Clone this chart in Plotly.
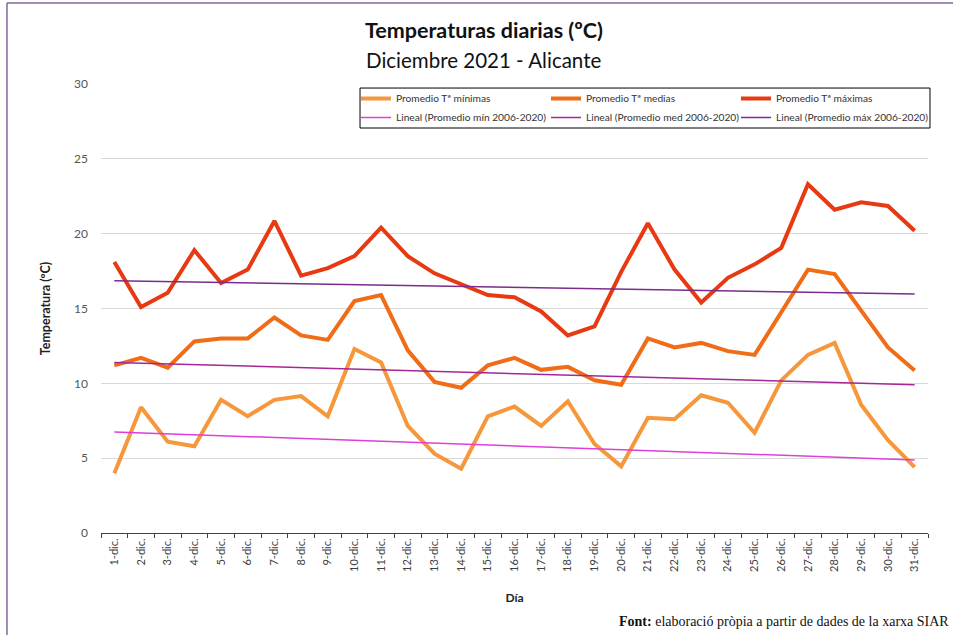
import plotly.graph_objects as go

dias = [f"{d}-dic." for d in range(1, 32)]

t_min = [4.0, 8.4, 6.1, 5.8, 8.9, 7.8, 8.9, 9.15, 7.8, 12.3, 11.4, 7.15, 5.3, 4.3, 7.8, 8.45,
         7.15, 8.8, 5.95, 4.45, 7.7, 7.6, 9.2, 8.7, 6.7, 10.2, 11.9, 12.7, 8.55, 6.2, 4.4]
t_med = [11.2, 11.7, 11.05, 12.8, 13.0, 13.0, 14.4, 13.2, 12.9, 15.5, 15.9, 12.2, 10.1, 9.7, 11.2, 11.7,
         10.9, 11.1, 10.2, 9.9, 13.0, 12.4, 12.7, 12.15, 11.9, 14.8, 17.6, 17.3, 14.8, 12.4, 10.85]
t_max = [18.1, 15.1, 16.05, 18.9, 16.7, 17.6, 20.85, 17.2, 17.7, 18.5, 20.4, 18.5, 17.35, 16.6, 15.9, 15.75,
         14.8, 13.2, 13.8, 17.45, 20.7, 17.6, 15.4, 17.05, 17.95, 19.05, 23.3, 21.6, 22.1, 21.85, 20.2]

# Linear trend (2006-2020 averages): values at first and last day
trend_x = ["1-dic.", "31-dic."]
trend_min = [6.75, 4.88]
trend_med = [11.4, 9.9]
trend_max = [16.86, 15.97]

y_ticks = [0, 5, 10, 15, 20, 25, 30]

FONT = "Lato"

fig = go.Figure()
fig.add_trace(go.Scatter(x=dias, y=t_min, mode="lines", name="Promedio Tª mínimas",
                         line=dict(color="#F5973A", width=4), legend="legend"))
fig.add_trace(go.Scatter(x=dias, y=t_med, mode="lines", name="Promedio Tª medias",
                         line=dict(color="#F06C16", width=4), legend="legend2"))
fig.add_trace(go.Scatter(x=dias, y=t_max, mode="lines", name="Promedio Tª máximas",
                         line=dict(color="#E83A12", width=4), legend="legend3"))
fig.add_trace(go.Scatter(x=trend_x, y=trend_min, mode="lines", name="Lineal (Promedio mín 2006-2020)",
                         line=dict(color="#DD3FDB", width=1.5), legend="legend"))
fig.add_trace(go.Scatter(x=trend_x, y=trend_med, mode="lines", name="Lineal (Promedio med 2006-2020)",
                         line=dict(color="#A42697", width=1.5), legend="legend2"))
fig.add_trace(go.Scatter(x=trend_x, y=trend_max, mode="lines", name="Lineal (Promedio máx 2006-2020)",
                         line=dict(color="#7B2C8C", width=1.5), legend="legend3"))

legend_common = dict(orientation="v", y=1.0, xanchor="left", yanchor="top",
                     borderwidth=0, bgcolor="rgba(0,0,0,0)",
                     font=dict(size=10.2, color="#333333", family=FONT),
                     tracegroupgap=0, itemwidth=30)

fig.update_layout(
    width=953, height=635,
    margin=dict(l=101, r=25, t=84, b=102),
    paper_bgcolor="white", plot_bgcolor="white",
    font=dict(family=FONT, color="#404040"),
    showlegend=True,
    legend=dict(legend_common, x=0.3083),
    legend2=dict(legend_common, x=0.5381),
    legend3=dict(legend_common, x=0.7678),
    xaxis=dict(type="category", categoryorder="array", categoryarray=dias,
               tickangle=-90, tickfont=dict(size=11, color="#404040"),
               showline=True, linecolor="#404040", linewidth=1,
               ticks="outside", tickson="boundaries", ticklen=4, tickcolor="#404040",
               showgrid=False, range=[-0.5, 30.5],
               title=dict(text="<b>Día</b>", font=dict(size=12, color="#222222"), standoff=22)),
    yaxis=dict(range=[0, 30], tickvals=y_ticks, tickfont=dict(size=12, color="#555555"),
               showgrid=True, gridcolor="#D9D9D9", gridwidth=1, zeroline=False,
               showline=False, ticks="", ticklabelstandoff=12,
               title=dict(text="<b>Temperatura (ºC)</b>", font=dict(size=12.5, color="#222222"), standoff=20)),
)

# legend frame
fig.add_shape(type="rect", xref="paper", yref="paper", x0=0.3132, x1=1.0024, y0=0.902, y1=0.991,
              line=dict(color="black", width=1), fillcolor="white", layer="above")

fig.add_annotation(text="<b>Temperaturas diarias (ºC)</b>", xref="paper", yref="paper",
                   x=0.463, y=1.1203, xanchor="center", yanchor="middle", showarrow=False,
                   font=dict(size=21.5, color="#111111", family=FONT))
fig.add_annotation(text="Diciembre 2021 - Alicante", xref="paper", yref="paper",
                   x=0.463, y=1.0535, xanchor="center", yanchor="middle", showarrow=False,
                   font=dict(size=20.5, color="#111111", family=FONT))
fig.add_annotation(text="<b>Font:</b> elaboració pròpia a partir de dades de la xarxa SIAR",
                   xref="paper", yref="paper", x=1.0275, y=-0.196, xanchor="right", yanchor="middle",
                   showarrow=False, font=dict(size=14, color="#111111", family="Liberation Serif"))

# frame lines of the chart area (top and left)
fig.add_shape(type="line", xref="paper", yref="paper", x0=-0.1137, x1=1.04, y0=1.1804, y1=1.1804,
              line=dict(color="#8064A2", width=1.5))
fig.add_shape(type="line", xref="paper", yref="paper", x0=-0.1137, x1=-0.1137, y0=1.1804, y1=-0.23,
              line=dict(color="#8064A2", width=1.5))

fig.write_html("out.html", config={"displayModeBar": False},
               post_script="document.body.style.margin='0';")
